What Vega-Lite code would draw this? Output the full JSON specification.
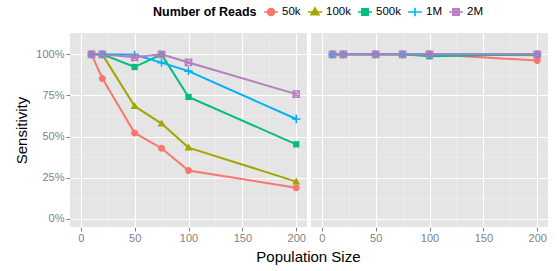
{
  "$schema": "https://vega.github.io/schema/vega-lite/v6.json",
  "padding": {"left": 14, "top": 4, "right": 5, "bottom": 4},
  "title": {"text": "Population Size", "orient": "bottom", "anchor": "middle", "fontSize": 15, "fontWeight": "normal", "color": "#000000", "offset": 7, "dx": 27},
  "data": {
    "values": [
      {"dist": "Power-law", "reads": "50k", "size": 10, "sens": 1.0},
      {"dist": "Power-law", "reads": "50k", "size": 20, "sens": 0.854},
      {"dist": "Power-law", "reads": "50k", "size": 50, "sens": 0.522},
      {"dist": "Power-law", "reads": "50k", "size": 75, "sens": 0.429},
      {"dist": "Power-law", "reads": "50k", "size": 100, "sens": 0.293},
      {"dist": "Power-law", "reads": "50k", "size": 200, "sens": 0.189},
      {"dist": "Power-law", "reads": "100k", "size": 10, "sens": 1.0},
      {"dist": "Power-law", "reads": "100k", "size": 20, "sens": 1.0},
      {"dist": "Power-law", "reads": "100k", "size": 50, "sens": 0.685},
      {"dist": "Power-law", "reads": "100k", "size": 75, "sens": 0.579},
      {"dist": "Power-law", "reads": "100k", "size": 100, "sens": 0.433},
      {"dist": "Power-law", "reads": "100k", "size": 200, "sens": 0.226},
      {"dist": "Power-law", "reads": "500k", "size": 10, "sens": 1.0},
      {"dist": "Power-law", "reads": "500k", "size": 20, "sens": 1.0},
      {"dist": "Power-law", "reads": "500k", "size": 50, "sens": 0.923},
      {"dist": "Power-law", "reads": "500k", "size": 75, "sens": 1.0},
      {"dist": "Power-law", "reads": "500k", "size": 100, "sens": 0.741},
      {"dist": "Power-law", "reads": "500k", "size": 200, "sens": 0.453},
      {"dist": "Power-law", "reads": "1M", "size": 10, "sens": 1.0},
      {"dist": "Power-law", "reads": "1M", "size": 20, "sens": 1.0},
      {"dist": "Power-law", "reads": "1M", "size": 50, "sens": 0.997},
      {"dist": "Power-law", "reads": "1M", "size": 75, "sens": 0.95},
      {"dist": "Power-law", "reads": "1M", "size": 100, "sens": 0.898},
      {"dist": "Power-law", "reads": "1M", "size": 200, "sens": 0.607},
      {"dist": "Power-law", "reads": "2M", "size": 10, "sens": 1.0},
      {"dist": "Power-law", "reads": "2M", "size": 20, "sens": 1.0},
      {"dist": "Power-law", "reads": "2M", "size": 50, "sens": 0.982},
      {"dist": "Power-law", "reads": "2M", "size": 75, "sens": 1.0},
      {"dist": "Power-law", "reads": "2M", "size": 100, "sens": 0.951},
      {"dist": "Power-law", "reads": "2M", "size": 200, "sens": 0.758},
      {"dist": "Uniform", "reads": "50k", "size": 10, "sens": 1.0},
      {"dist": "Uniform", "reads": "50k", "size": 20, "sens": 1.0},
      {"dist": "Uniform", "reads": "50k", "size": 50, "sens": 1.0},
      {"dist": "Uniform", "reads": "50k", "size": 75, "sens": 1.0},
      {"dist": "Uniform", "reads": "50k", "size": 100, "sens": 1.0},
      {"dist": "Uniform", "reads": "50k", "size": 200, "sens": 0.963},
      {"dist": "Uniform", "reads": "100k", "size": 10, "sens": 1.0},
      {"dist": "Uniform", "reads": "100k", "size": 20, "sens": 1.0},
      {"dist": "Uniform", "reads": "100k", "size": 50, "sens": 1.0},
      {"dist": "Uniform", "reads": "100k", "size": 75, "sens": 1.0},
      {"dist": "Uniform", "reads": "100k", "size": 100, "sens": 1.0},
      {"dist": "Uniform", "reads": "100k", "size": 200, "sens": 0.995},
      {"dist": "Uniform", "reads": "500k", "size": 10, "sens": 1.0},
      {"dist": "Uniform", "reads": "500k", "size": 20, "sens": 1.0},
      {"dist": "Uniform", "reads": "500k", "size": 50, "sens": 1.0},
      {"dist": "Uniform", "reads": "500k", "size": 75, "sens": 1.0},
      {"dist": "Uniform", "reads": "500k", "size": 100, "sens": 0.988},
      {"dist": "Uniform", "reads": "500k", "size": 200, "sens": 1.0},
      {"dist": "Uniform", "reads": "1M", "size": 10, "sens": 1.0},
      {"dist": "Uniform", "reads": "1M", "size": 20, "sens": 1.0},
      {"dist": "Uniform", "reads": "1M", "size": 50, "sens": 1.0},
      {"dist": "Uniform", "reads": "1M", "size": 75, "sens": 1.0},
      {"dist": "Uniform", "reads": "1M", "size": 100, "sens": 1.0},
      {"dist": "Uniform", "reads": "1M", "size": 200, "sens": 1.0},
      {"dist": "Uniform", "reads": "2M", "size": 10, "sens": 1.0},
      {"dist": "Uniform", "reads": "2M", "size": 20, "sens": 1.0},
      {"dist": "Uniform", "reads": "2M", "size": 50, "sens": 1.0},
      {"dist": "Uniform", "reads": "2M", "size": 75, "sens": 1.0},
      {"dist": "Uniform", "reads": "2M", "size": 100, "sens": 1.0},
      {"dist": "Uniform", "reads": "2M", "size": 200, "sens": 1.0}
    ]
  },
  "facet": {
    "column": {"field": "dist", "type": "nominal", "header": {"title": null, "labels": false}}
  },
  "spacing": 4,
  "spec": {
    "width": 237,
    "height": 194,
    "encoding": {
      "x": {
        "field": "size", "type": "quantitative", "title": null,
        "scale": {"domain": [-10, 210], "nice": false, "zero": false},
        "axis": {
          "values": [0, 25, 50, 75, 100, 125, 150, 175, 200],
          "labelExpr": "datum.value % 50 === 0 ? datum.label : ''",
          "tickOpacity": {"condition": {"test": "datum.value % 50 === 0", "value": 1}, "value": 0},
          "gridColor": {"condition": {"test": "datum.value % 50 === 0", "value": "#FFFFFF"}, "value": "#F2F2F2"},
          "gridWidth": {"condition": {"test": "datum.value % 50 === 0", "value": 1.1}, "value": 0.5},
          "labelFlush": false, "labelOverlap": false, "labelPadding": 1
        }
      },
      "y": {
        "field": "sens", "type": "quantitative", "title": "Sensitivity",
        "scale": {"domain": [-0.05, 1.13], "nice": false, "zero": false},
        "axis": {
          "values": [0, 0.125, 0.25, 0.375, 0.5, 0.625, 0.75, 0.875, 1],
          "format": ".0%",
          "labelExpr": "datum.value % 0.25 === 0 ? datum.label : ''",
          "tickOpacity": {"condition": {"test": "datum.value % 0.25 === 0", "value": 1}, "value": 0},
          "gridColor": {"condition": {"test": "datum.value % 0.25 === 0", "value": "#FFFFFF"}, "value": "#F2F2F2"},
          "gridWidth": {"condition": {"test": "datum.value % 0.25 === 0", "value": 1.1}, "value": 0.5},
          "labelFlush": false, "labelOverlap": false, "titlePadding": 6
        }
      }
    },
    "layer": [
      {
        "mark": {"type": "line", "strokeWidth": 2},
        "encoding": {
          "stroke": {
            "field": "reads", "type": "nominal",
            "scale": {"domain": ["50k", "100k", "500k", "1M", "2M"], "range": ["#F8766D", "#A3A500", "#00BF7D", "#00B0F6", "#B87DC1"]}
          }
        }
      },
      {
        "transform": [{"filter": "datum.reads === '50k'"}],
        "mark": {"type": "point", "filled": true, "size": 49, "opacity": 1, "shape": "M-1,0A1,1 0 1,0 1,0A1,1 0 1,0 -1,0Z"},
        "encoding": {"fill": {"field": "reads", "type": "nominal"}}
      },
      {
        "transform": [{"filter": "datum.reads === '100k'"}],
        "mark": {"type": "point", "filled": true, "size": 49, "opacity": 1, "shape": "M0,-1.2L1.15,0.8H-1.15Z"},
        "encoding": {"fill": {"field": "reads", "type": "nominal"}}
      },
      {
        "transform": [{"filter": "datum.reads === '500k'"}],
        "mark": {"type": "point", "filled": true, "size": 49, "opacity": 1, "shape": "M-0.9,-0.9H0.9V0.9H-0.9Z"},
        "encoding": {"fill": {"field": "reads", "type": "nominal"}}
      },
      {
        "transform": [{"filter": "datum.reads === '1M'"}],
        "mark": {"type": "point", "filled": false, "size": 49, "opacity": 1, "strokeWidth": 1.6, "shape": "M-1.2,0H1.2M0,-1.2V1.2"},
        "encoding": {"stroke": {"field": "reads", "type": "nominal"}}
      },
      {
        "transform": [{"filter": "datum.reads === '2M'"}],
        "mark": {"type": "point", "filled": false, "size": 49, "opacity": 1, "strokeWidth": 1.4, "shape": "M-0.9,-0.9H0.9V0.9H-0.9ZM-0.9,-0.9L0.9,0.9M-0.9,0.9L0.9,-0.9"},
        "encoding": {"stroke": {"field": "reads", "type": "nominal"}}
      },
      {
        "transform": [{"filter": "false"}],
        "mark": {"type": "point", "size": 196, "strokeWidth": 1.6, "opacity": 1},
        "encoding": {
          "fill": {
            "field": "reads", "type": "nominal",
            "scale": {"domain": ["50k", "100k", "500k", "1M", "2M"], "range": ["#F8766D", "#A3A500", "#00BF7D", "transparent", "transparent"]},
            "legend": {
              "orient": "none", "legendX": 83, "legendY": -29,
              "direction": "horizontal", "title": "Number of Reads", "titleOrient": "left",
              "titleFontSize": 12.5, "titleFontWeight": "bold", "titleColor": "#000000",
              "titleBaseline": "middle", "titlePadding": 6,
              "labelFontSize": 11.5, "labelColor": "#000000", "symbolSize": 196,
              "symbolStrokeWidth": 1.6, "symbolOpacity": 1,
              "columnPadding": 3, "labelOffset": 3, "gridAlign": "none"
            }
          },
          "stroke": {"field": "reads", "type": "nominal"},
          "shape": {
            "field": "reads", "type": "nominal",
            "scale": {
              "domain": ["50k", "100k", "500k", "1M", "2M"],
              "range": [
                "M-1,0H1M-0.5,0A0.5,0.5 0 1,0 0.5,0A0.5,0.5 0 1,0 -0.5,0Z",
                "M-1,0H1M0,-0.6L0.57,0.4H-0.57Z",
                "M-1,0H1M-0.45,-0.45H0.45V0.45H-0.45Z",
                "M-1,0H1M0,-0.6V0.6",
                "M-1,0H1M-0.45,-0.45H0.45V0.45H-0.45ZM-0.45,-0.45L0.45,0.45M-0.45,0.45L0.45,-0.45"
              ]
            }
          }
        }
      },
      {
        "transform": [{"aggregate": [{"op": "count", "as": "n"}], "groupby": ["dist"]}],
        "mark": {"type": "rect", "color": "#CCCCCC"},
        "encoding": {
          "x": {"datum": -10, "type": "quantitative"},
          "x2": {"datum": 210},
          "y": {"datum": 1.05, "type": "quantitative"},
          "y2": {"datum": 1.13}
        }
      },
      {
        "transform": [{"aggregate": [{"op": "count", "as": "n"}], "groupby": ["dist"]}],
        "mark": {"type": "text", "fontSize": 12, "color": "#1A1A1A", "baseline": "middle", "align": "center"},
        "encoding": {
          "x": {"datum": 100, "type": "quantitative"},
          "y": {"datum": 1.09, "type": "quantitative"},
          "text": {"field": "dist", "type": "nominal"}
        }
      }
    ]
  },
  "config": {
    "font": "Liberation Sans",
    "view": {"stroke": null, "fill": "#E5E5E5"},
    "axis": {
      "domain": false,
      "labelColor": "#7F7F7F",
      "labelFontSize": 11,
      "labelPadding": 2,
      "tickColor": "#7F7F7F",
      "tickSize": 4,
      "titleFontSize": 15,
      "titleFontWeight": "normal",
      "titleColor": "#000000"
    }
  }
}
